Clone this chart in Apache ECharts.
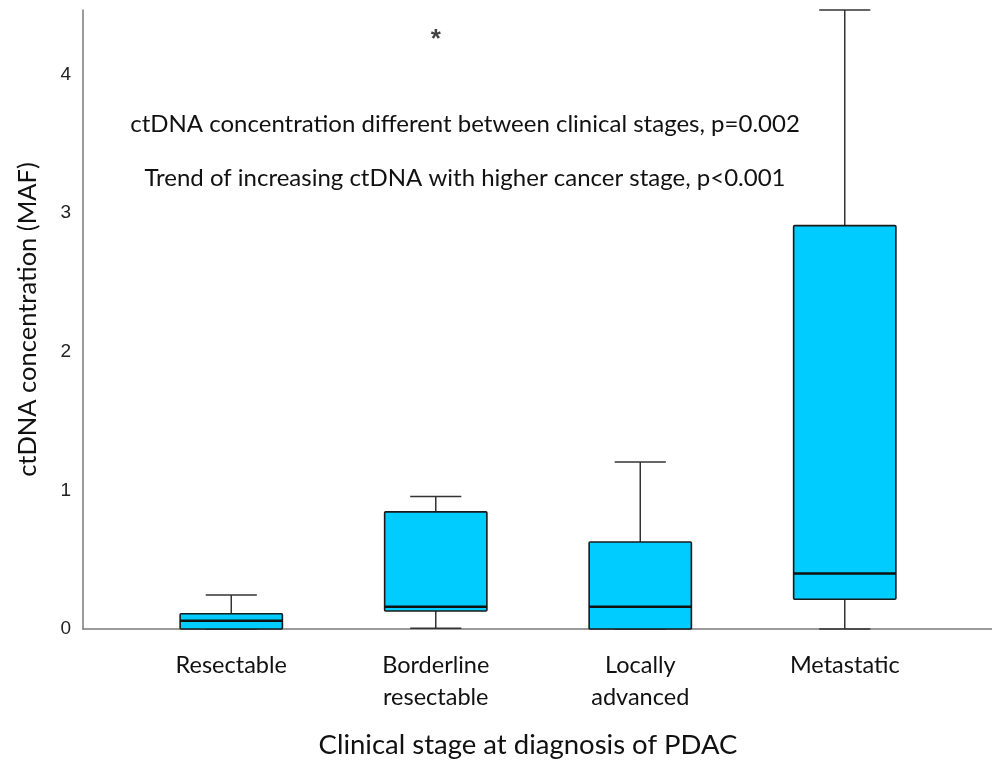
<!DOCTYPE html>
<html>
<head>
<meta charset="utf-8">
<script src="https://cdn.jsdelivr.net/npm/echarts@6/dist/echarts.min.js"></script>
<style>
html,body{margin:0;padding:0;background:#fff;}
#chart{width:992px;height:760px;}
</style>
</head>
<body>
<div id="chart"></div>
<script>
// Data
var categories = ['Resectable', 'Borderline\nresectable', 'Locally\nadvanced', 'Metastatic'];
var positions = [1, 2, 3, 4];
var whiskerLow = [0, 0.005, 0, 0];
var q1 = [0, 0.13, 0, 0.215];
var median = [0.06, 0.16, 0.16, 0.40];
var q3 = [0.11, 0.845, 0.628, 2.91];
var whiskerHigh = [0.245, 0.955, 1.205, 4.465];
var outliers = [[2, 4.29]];
var yTicks = [0, 1, 2, 3, 4];
var annotations = [
  'ctDNA concentration different between clinical stages, p=0.002',
  'Trend of increasing ctDNA with higher cancer stage, p<0.001'
];

var boxData = positions.map(function (p, i) {
  return [p, whiskerLow[i], q1[i], median[i], q3[i], whiskerHigh[i]];
});

var FONT = 'Lato';
var chart = echarts.init(document.getElementById('chart'), null, {renderer: 'canvas'});

var option = {
  animation: false,
  backgroundColor: '#ffffff',
  grid: {left: 83, right: 0, top: 10, bottom: 131, containLabel: false, outerBoundsMode: 'none'},
  xAxis: {
    type: 'value',
    min: 0.275,
    max: 4.72,
    splitLine: {show: false},
    axisLine: {show: true, lineStyle: {color: '#7a7a7a', width: 1.5}},
    axisTick: {show: false},
    axisLabel: {
      show: true,
      customValues: positions,
      formatter: function (v) {
        var idx = positions.indexOf(Math.round(v));
        return idx >= 0 ? categories[idx] : '';
      },
      fontFamily: FONT,
      fontSize: 23.5,
      color: '#111',
      lineHeight: 32,
      margin: 20
    },
    name: 'Clinical stage at diagnosis of PDAC',
    nameLocation: 'middle',
    nameGap: 102,
    nameTextStyle: {fontFamily: FONT, fontSize: 27.5, color: '#111', padding: [0, 19, 0, 0]}
  },
  yAxis: {
    type: 'value',
    min: 0,
    max: 4.465,
    interval: 1,
    splitLine: {show: false},
    axisLine: {show: true, lineStyle: {color: '#7a7a7a', width: 1.5}},
    axisTick: {show: false},
    axisLabel: {
      customValues: yTicks,
      fontFamily: 'Liberation Sans',
      fontSize: 19,
      color: '#222',
      margin: 12,
      showMaxLabel: true
    },
    name: 'ctDNA concentration (MAF)',
    nameLocation: 'middle',
    nameRotate: 90,
    nameGap: 42,
    nameTextStyle: {fontFamily: FONT, fontSize: 25.5, color: '#111'}
  },
  graphic: [
    {
      type: 'text', x: 465, y: 124,
      style: {text: annotations[0], fontFamily: FONT, fontSize: 24, fill: '#111', align: 'center', verticalAlign: 'middle'}
    },
    {
      type: 'text', x: 465, y: 178,
      style: {text: annotations[1], fontFamily: FONT, fontSize: 24, fill: '#111', align: 'center', verticalAlign: 'middle'}
    }
  ],
  series: [
    {
      type: 'custom',
      name: 'box',
      data: boxData,
      encode: {x: 0, y: [1, 2, 3, 4, 5]},
      renderItem: function (params, api) {
        var x = api.value(0);
        var bw = 0.25, cw = 0.125;
        var pMinL = api.coord([x - cw, api.value(1)]);
        var pMinR = api.coord([x + cw, api.value(1)]);
        var pMin = api.coord([x, api.value(1)]);
        var pQ1 = api.coord([x, api.value(2)]);
        var pQ3 = api.coord([x, api.value(4)]);
        var pMax = api.coord([x, api.value(5)]);
        var pMaxL = api.coord([x - cw, api.value(5)]);
        var pMaxR = api.coord([x + cw, api.value(5)]);
        var bl = api.coord([x - bw, api.value(4)]);
        var br = api.coord([x + bw, api.value(2)]);
        var mL = api.coord([x - bw, api.value(3)]);
        var mR = api.coord([x + bw, api.value(3)]);
        var wStyle = {stroke: '#333', lineWidth: 1.5};
        return {
          type: 'group',
          children: [
            {type: 'line', shape: {x1: pMax[0], y1: pMax[1], x2: pQ3[0], y2: pQ3[1]}, style: wStyle},
            {type: 'line', shape: {x1: pMaxL[0], y1: pMaxL[1], x2: pMaxR[0], y2: pMaxR[1]}, style: wStyle},
            {type: 'line', shape: {x1: pMin[0], y1: pMin[1], x2: pQ1[0], y2: pQ1[1]}, style: wStyle},
            {type: 'line', shape: {x1: pMinL[0], y1: pMinL[1], x2: pMinR[0], y2: pMinR[1]}, style: wStyle},
            {type: 'rect', shape: {x: bl[0], y: bl[1], width: br[0] - bl[0], height: br[1] - bl[1], r: 1},
              style: {fill: '#00CCFF', stroke: '#1a1a1a', lineWidth: 1.6}},
            {type: 'line', shape: {x1: mL[0], y1: mL[1], x2: mR[0], y2: mR[1]}, style: {stroke: '#111', lineWidth: 2.6}}
          ]
        };
      },
      z: 3
    },
    {
      type: 'scatter',
      name: 'outlier',
      data: outliers,
      symbolSize: 1,
      itemStyle: {color: 'rgba(0,0,0,0)'},
      label: {
        show: true,
        position: 'inside',
        formatter: '*',
        fontFamily: 'Liberation Sans',
        fontSize: 26,
        fontWeight: 'bold',
        color: '#111',
        offset: [0, 6]
      },
      z: 4
    }
  ]
};
chart.setOption(option);
</script>
</body>
</html>
